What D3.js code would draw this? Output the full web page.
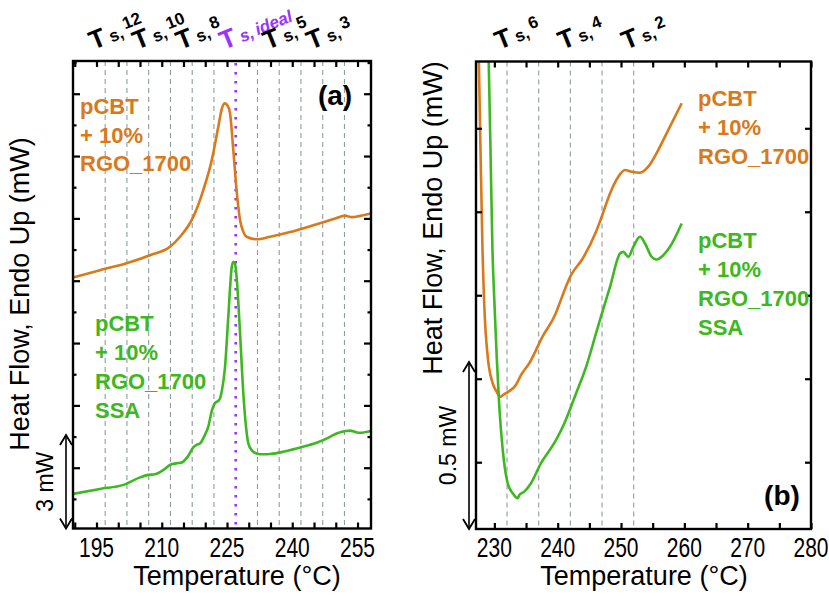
<!DOCTYPE html>
<html><head><meta charset="utf-8">
<script src="https://cdn.jsdelivr.net/npm/d3@7"></script>
<style>body{margin:0;background:#fff}svg{display:block}text{font-family:"Liberation Sans",Arial,Helvetica,sans-serif}</style>
</head><body><svg id="c" width="829" height="598"></svg>
<script>
// ---------- data ----------
const tempOrangeA = [189.6,195.8,201.9,207.3,211.9,214.2,217.25,219.55,221.5,223.0,223.85,224.5,225.2,225.7,226.45,227.2,228.0,228.7,229.5,231.8,234.9,239.5,244.1,250.2,252.1,253.7,255.6,258.1];
const orangeA = [8.10,8.34,8.56,8.82,9.09,9.41,10.05,10.91,11.87,12.94,13.54,13.69,13.60,13.37,12.19,10.91,9.95,9.59,9.41,9.33,9.41,9.56,9.75,10.01,10.09,10.04,10.08,10.16];
const tempGreenA = [189.6,195.8,201.2,205.0,206.9,208.45,210.4,211.9,213.3,214.6,216.1,217.25,218.1,218.8,219.7,220.7,221.55,222.2,223.2,223.85,224.55,225.3,226.1,226.45,226.85,227.2,228.0,228.75,229.4,229.9,230.75,231.8,233.3,234.9,237.9,241.8,245.6,248.7,250.2,251.4,252.35,253.3,254.4,255.6,258.1];
const greenA = [1.16,1.32,1.45,1.69,1.77,1.79,1.93,2.09,2.14,2.17,2.38,2.65,2.74,2.78,2.99,3.32,3.85,4.07,4.17,4.49,5.24,6.85,8.45,8.61,8.54,8.13,6.31,4.39,3.27,2.78,2.55,2.46,2.43,2.44,2.51,2.65,2.80,2.99,3.10,3.15,3.18,3.19,3.15,3.12,3.18];

const tempOrangeB = [227.49,227.81,228.13,228.44,228.95,229.74,230.37,230.9,231.57,232.36,233.4,234.2,235.5,237.6,239.7,240.2,242.1,243.95,246.05,246.95,248.26,249.57,250.63,251.69,253.0,254.3,255.6,257.2,259.58];
const orangeB = [1.514,1.185,0.885,0.706,0.566,0.486,0.461,0.446,0.454,0.463,0.481,0.511,0.546,0.626,0.696,0.721,0.810,0.860,0.940,0.985,1.055,1.105,1.125,1.12,1.117,1.135,1.175,1.235,1.325];
const tempGreenB = [229.04,229.39,229.7,229.99,230.37,230.78,231.32,232.1,232.9,233.68,233.94,234.73,235.78,237.36,239.73,241.04,242.9,244.5,246.05,246.68,248.26,249.84,250.36,251.15,251.94,253.0,253.79,254.84,255.63,256.68,257.73,259.58];
const greenB = [1.514,1.185,0.885,0.736,0.566,0.416,0.287,0.187,0.157,0.142,0.152,0.162,0.187,0.247,0.316,0.366,0.456,0.536,0.636,0.676,0.775,0.875,0.880,0.865,0.895,0.925,0.905,0.865,0.857,0.870,0.895,0.965];

const xTickLabelsA = [195,210,225,240,255];
const xTickLabelsB = [230,240,250,260,270,280];
const dashTempsA = [197,202,207,212,217,222,232,237,242,247,252];
const idealTemp = 227;
const dashTempsB = [232,237,242,247,252];
const topTempsA = [197,207,217,227,237,247];
const topSubsA = ["12","10","8","ideal","5","3"];
const topTempsB = [232,242,252];
const topSubsB = ["6","4","2"];
const sampleLabel = ["pCBT","+ 10%","RGO_1700"];
const sampleLabelSSA = ["pCBT","+ 10%","RGO_1700","SSA"];

// ---------- style ----------
const ORANGE = "#D9791A", GREEN = "#3DB820", PURPLE = "#9933FF", DASH = "#8E9E9E";
const svg = d3.select("#c");

function panel(o){
  const x = d3.scaleLinear().domain(o.xDom).range([o.l, o.r]);
  const y = d3.scaleLinear().domain(o.yDom).range([o.b, o.t]);
  const g = svg.append("g");
  const cid = "clip"+o.id;
  svg.append("clipPath").attr("id", cid).append("rect")
    .attr("x", o.l).attr("y", o.t).attr("width", o.r-o.l).attr("height", o.b-o.t);
  // dashed guides
  g.selectAll(null).data(o.dash).enter().append("line")
    .attr("x1", d=>x(d)).attr("x2", d=>x(d)).attr("y1", o.t).attr("y2", o.b)
    .attr("stroke", DASH).attr("stroke-width", 1.1).attr("stroke-dasharray", "5,4");
  if (o.ideal !== undefined){
    g.append("line").attr("x1", x(o.ideal)).attr("x2", x(o.ideal)).attr("y1", o.t+2).attr("y2", o.b)
      .attr("stroke", PURPLE).attr("stroke-width", 2.6).attr("stroke-dasharray", "2.5,6.5");
  }
  // curves
  const line = d3.line().x(d=>x(d[0])).y(d=>y(d[1])).curve(d3.curveMonotoneX);
  o.series.forEach(s=>{
    g.append("path").attr("clip-path", `url(#${cid})`)
      .attr("d", line(d3.zip(s.t, s.v))).attr("fill","none")
      .attr("stroke", s.c).attr("stroke-width", 2.6).attr("stroke-linejoin","round");
  });
  // axes (ticks inward, all four sides)
  const xt = d3.range(Math.ceil(o.xDom[0]/5)*5, o.xDom[1]+0.001, 5);
  const bottom = g.append("g").attr("transform", `translate(0,${o.b})`)
    .call(d3.axisBottom(x).tickValues(xt).tickSizeInner(-6).tickSizeOuter(0).tickFormat(""));
  const top = g.append("g").attr("transform", `translate(0,${o.t})`)
    .call(d3.axisTop(x).tickValues(xt).tickSizeInner(-6).tickSizeOuter(0).tickFormat(""));
  const left = g.append("g").attr("transform", `translate(${o.l},0)`)
    .call(d3.axisLeft(y).tickValues(o.yTicks).tickSizeInner(-6).tickSizeOuter(0).tickFormat(""));
  const right = g.append("g").attr("transform", `translate(${o.r},0)`)
    .call(d3.axisRight(y).tickValues(o.yTicks).tickSizeInner(-6).tickSizeOuter(0).tickFormat(""));
  [bottom,top,left,right].forEach(a=>{
    a.select(".domain").remove();
    a.selectAll(".tick line").attr("stroke","#000").attr("stroke-width",2.2);
  });
  if (o.minor){
    left.selectAll(".tick line").attr("x2", d=> o.minor(d) ? 3.5 : 7);
    right.selectAll(".tick line").attr("x2", d=> o.minor(d) ? -3.5 : -7);
  }
  // frame
  g.append("rect").attr("x", o.l).attr("y", o.t).attr("width", o.r-o.l).attr("height", o.b-o.t)
    .attr("fill","none").attr("stroke","#000").attr("stroke-width",2.4);
  // tick labels
  g.selectAll(null).data(o.xLabels).enter().append("text")
    .attr("transform", d=>`translate(${x(d)},${o.b+28}) scale(1,1.28)`)
    .attr("text-anchor","middle").attr("font-size",21).text(d=>d);
  // x title
  g.append("text").attr("x", o.xTitleX).attr("y", 585).attr("text-anchor","middle")
    .attr("font-size",27).text("Temperature (°C)");
  // y title
  g.append("text").attr("transform", `translate(${o.yTitleX},${o.yTitleY}) rotate(-90)`)
    .attr("text-anchor","middle").attr("font-size",27).text("Heat Flow, Endo Up (mW)");
  // scale bar
  const sbTop = y(o.yDom[0]+o.sb) , sbBot = o.b;
  const ax = o.sbX, ah = 6;
  g.append("line").attr("x1",ax).attr("x2",ax).attr("y1",sbTop+2).attr("y2",sbBot-2).attr("stroke","#000").attr("stroke-width",1.6);
  g.append("path").attr("d",`M${ax-ah},${sbTop+10}L${ax},${sbTop}L${ax+ah},${sbTop+10}`).attr("fill","none").attr("stroke","#000").attr("stroke-width",1.8);
  g.append("path").attr("d",`M${ax-ah},${sbBot-10}L${ax},${sbBot}L${ax+ah},${sbBot-10}`).attr("fill","none").attr("stroke","#000").attr("stroke-width",1.8);
  g.append("text").attr("transform", `translate(${ax-13},${(sbTop+sbBot)/2}) rotate(-90)`)
    .attr("text-anchor","middle").attr("font-size",23).text(o.sbText);
  // top T labels
  o.topT.forEach((t,i)=>{
    const sub = o.topS[i];
    const isIdeal = sub === "ideal";
    const tx = g.append("text").attr("transform", `translate(${x(t)+o.topDx},50) rotate(-22)`)
      .attr("font-weight","bold").attr("fill", isIdeal ? PURPLE : "#000");
    tx.append("tspan").attr("font-size",26).text("T");
    tx.append("tspan").attr("font-size",17).attr("dx",4).attr("font-style", isIdeal?"italic":null).text("s,");
    tx.append("tspan").attr("font-size",17).attr("dx",3).attr("dy", isIdeal? -1 : -7)
      .attr("font-style", isIdeal?"italic":null).text(sub);
  });
  // panel letter
  g.append("text").attr("x", o.letter[0]).attr("y", o.letter[1]).attr("text-anchor","middle")
    .attr("font-size",28).attr("font-weight","bold").text(o.letter[2]);
  // sample labels
  o.labels.forEach(L=>{
    L.lines.forEach((s,i)=>{
      g.append("text").attr("x", L.x).attr("y", L.y + i*L.lh).attr("fill", L.c)
        .attr("font-size",22).attr("font-weight","bold").text(s);
    });
  });
  return {x,y};
}

panel({
  id:"a", l:73, r:371, t:61, b:528.5,
  xDom:[189.6,258.1], yDom:[0.05,15.05], yTicks:d3.range(1,16,1),
  minor: d => d%2===1,
  dash: dashTempsA, ideal: idealTemp,
  series:[{t:tempOrangeA, v:orangeA, c:ORANGE},{t:tempGreenA, v:greenA, c:GREEN}],
  xLabels: xTickLabelsA, xTitleX: 237, yTitleX: 29, yTitleY: 294,
  sb: 3, sbX: 66, sbText: "3 mW",
  topT: topTempsA, topS: topSubsA, topDx: -12,
  letter:[335, 105, "(a)"],
  labels:[{lines:sampleLabel, x:80, y:114, lh:28.5, c:ORANGE},
          {lines:sampleLabelSSA, x:95, y:331, lh:29, c:GREEN}]
});

panel({
  id:"b", l:476, r:811, t:61.5, b:529,
  xDom:[227.1,280], yDom:[0.05,1.45], yTicks:[0.25,0.5,0.75,1.0,1.25],
  minor: null,
  dash: dashTempsB,
  series:[{t:tempOrangeB, v:orangeB, c:ORANGE},{t:tempGreenB, v:greenB, c:GREEN}],
  xLabels: xTickLabelsB, xTitleX: 644, yTitleX: 442, yTitleY: 218,
  sb: 0.5, sbX: 469, sbText: "0.5 mW",
  topT: topTempsB, topS: topSubsB, topDx: -8,
  letter:[782, 505, "(b)"],
  labels:[{lines:sampleLabel, x:698, y:106, lh:29, c:ORANGE},
          {lines:sampleLabelSSA, x:698, y:248, lh:29, c:GREEN}]
});
</script></body></html>
